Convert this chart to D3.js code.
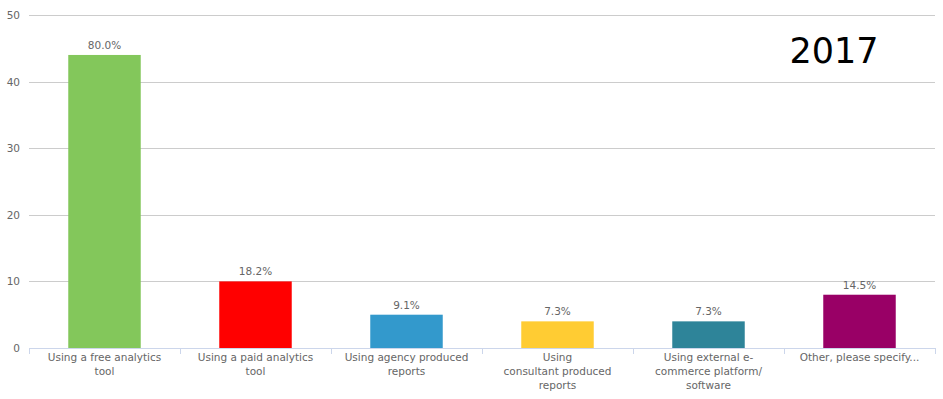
<!DOCTYPE html>
<html><head><meta charset="utf-8">
<script src="https://cdnjs.cloudflare.com/ajax/libs/d3/7.8.5/d3.min.js"></script>
<style>html,body{margin:0;padding:0;background:#fff}</style>
</head><body><svg id="c" width="943" height="399"></svg>
<script>
const categories = ["Using a free analytics tool","Using a paid analytics tool","Using agency produced reports","Using consultant produced reports","Using external e-commerce platform/software","Other, please specify..."];
const labelLines = [["Using a free analytics","tool"],["Using a paid analytics","tool"],["Using agency produced","reports"],["Using","consultant produced","reports"],["Using external e-","commerce platform/","software"],["Other, please specify..."]];
const values = [44,10,5,4,4,8];
const percentLabels = ["80.0%","18.2%","9.1%","7.3%","7.3%","14.5%"];
const colors = ["#83c75b","#ff0000","#3399cc","#ffcc33","#2e8499","#990066"];
const yTicks = [0,10,20,30,40,50];
const title = "2017";

(function(){
const svg = d3.select("#c");
const mLeft = 29, mRight = 935, mTop = 15, mBottom = 348;
const x = d3.scaleBand().domain(categories).range([mLeft,mRight]).paddingInner(0).paddingOuter(0);
const y = d3.scaleLinear().domain([0,50]).range([mBottom,mTop]);
const font = "DejaVu Sans, Verdana, sans-serif";

svg.append("g").selectAll("line").data(yTicks.filter(d=>d>0)).join("line")
  .attr("x1",mLeft).attr("x2",mRight)
  .attr("y1",d=>Math.round(y(d))+0.5).attr("y2",d=>Math.round(y(d))+0.5)
  .attr("stroke","#cccccc").attr("stroke-width",1);

svg.append("g").selectAll("text").data(yTicks).join("text")
  .attr("x",20).attr("y",d=>y(d)+4)
  .attr("text-anchor","end").attr("font-family",font).attr("font-size",10.5).attr("fill","#666")
  .text(d=>d);

const bw = x.bandwidth()*0.48;
svg.append("g").selectAll("rect").data(values).join("rect")
  .attr("x",(d,i)=>x(categories[i])+(x.bandwidth()-bw)/2)
  .attr("y",d=>y(d)).attr("width",bw).attr("height",d=>y(0)-y(d))
  .attr("fill",(d,i)=>colors[i]);

svg.append("line").attr("x1",mLeft).attr("x2",mRight).attr("y1",mBottom+0.5).attr("y2",mBottom+0.5)
  .attr("stroke","#ccd6eb");
const bounds = categories.map(c=>x(c)).concat([mRight]);
svg.append("g").selectAll("line").data(bounds).join("line")
  .attr("x1",d=>Math.round(d)+0.5).attr("x2",d=>Math.round(d)+0.5)
  .attr("y1",mBottom).attr("y2",mBottom+6).attr("stroke","#ccd6eb");

const xl = svg.append("g").selectAll("text").data(labelLines).join("text")
  .attr("text-anchor","middle").attr("font-family",font).attr("font-size",10.5).attr("fill","#666")
  .attr("transform",(d,i)=>`translate(${x(categories[i])+x.bandwidth()/2},${mBottom+13})`);
xl.selectAll("tspan").data(d=>d).join("tspan")
  .attr("x",0).attr("dy",(d,j)=>j===0?0:14).text(d=>d);

svg.append("g").selectAll("text").data(values).join("text")
  .attr("x",(d,i)=>x(categories[i])+x.bandwidth()/2).attr("y",d=>y(d)-6)
  .attr("text-anchor","middle").attr("font-family",font).attr("font-size",10.5).attr("fill","#666")
  .text((d,i)=>percentLabels[i]);

svg.append("text").attr("x",834).attr("y",63).attr("text-anchor","middle")
  .attr("font-family",font).attr("font-size",35).attr("fill","#000").text(title);
})();
</script></body></html>
